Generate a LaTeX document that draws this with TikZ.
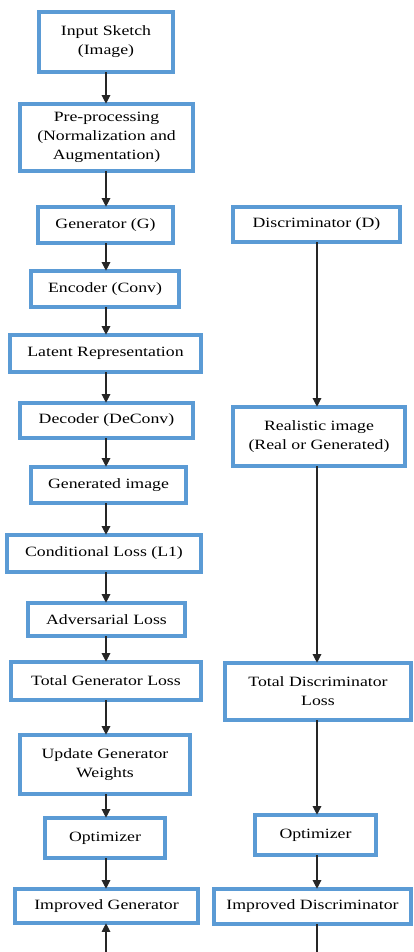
\documentclass[tikz,border=0pt]{standalone}
\usepackage{fontspec}
\setmainfont{Liberation Serif}[FakeStretch=1.25]
\usetikzlibrary{arrows.meta}
\definecolor{bandblue}{HTML}{5B9BD5}
\definecolor{edgeblue}{HTML}{41719C}

\begin{document}
\begin{tikzpicture}[
		x=1pt, y=-1pt,
		blk/.style={rectangle, draw=edgeblue, line width=0.6pt, double=bandblue,
			double distance=3.4pt, fill=white, align=center, inner sep=2pt,
			font=\fontsize{14.2}{19}\selectfont},
		flow/.style={draw=black!85, line width=1.2pt, -{Triangle[width=8.5pt,length=8.5pt]}}
	]
  \useasboundingbox (0,0) rectangle (414,952);
  % generator side
  \node (in) [blk, minimum width=134pt, minimum height=60pt] at (106,42) {Input Sketch\\(Image)};
  \node (pre) [blk, minimum width=173pt, minimum height=67pt] at (106.5,137.5) {Pre-processing\\(Normalization and\\Augmentation)};
  \node (gen) [blk, minimum width=135pt, minimum height=36pt] at (105.5,225) {Generator (G)};
  \node (enc) [blk, minimum width=148pt, minimum height=36pt] at (105,289) {Encoder (Conv)};
  \node (lat) [blk, minimum width=191pt, minimum height=37pt] at (105.5,353.5) {Latent Representation};
  \node (dec) [blk, minimum width=173pt, minimum height=35pt] at (106.5,420.5) {Decoder (DeConv)};
  \node (gim) [blk, minimum width=155pt, minimum height=36pt] at (108.5,485) {Generated image};
  \node (cond) [blk, minimum width=194pt, minimum height=37pt] at (104,553.5) {Conditional Loss (L1)};
  \node (adv) [blk, minimum width=157pt, minimum height=33pt] at (106.5,619.5) {Adversarial Loss};
  \node (tgl) [blk, minimum width=190pt, minimum height=38pt] at (106,681) {Total Generator Loss};
  \node (upd) [blk, minimum width=170pt, minimum height=59pt] at (105,764.5) {Update Generator\\Weights};
  \node (optg) [blk, minimum width=120pt, minimum height=40pt] at (105,838) {Optimizer};
  \node (impg) [blk, minimum width=183pt, minimum height=34pt] at (106.5,906) {Improved Generator};
  \coordinate (gbot) at (106,952);

  % discriminator side
  \node (dis) [blk, minimum width=167pt, minimum height=35pt] at (316.5,224.5) {Discriminator (D)};
  \node (real) [blk, minimum width=172pt, minimum height=59pt] at (319,436.5) {Realistic image\\(Real or Generated)};
  \node (tdl) [blk, minimum width=186pt, minimum height=57pt] at (318,691.5) {Total Discriminator\\Loss};
  \node (optd) [blk, minimum width=121pt, minimum height=40pt] at (315.5,835) {Optimizer};
  \node (impd) [blk, minimum width=197pt, minimum height=35pt] at (312.5,906.5) {Improved Discriminator};
  \coordinate (dbot) at (317,952);

  \draw[flow] (in.south -| 106,0) -- (pre.north -| 106,0);
  \draw[flow] (pre.south -| 106,0) -- (gen.north -| 106,0);
  \draw[flow] (gen.south -| 106,0) -- (enc.north -| 106,0);
  \draw[flow] (enc.south -| 106,0) -- (lat.north -| 106,0);
  \draw[flow] (lat.south -| 106,0) -- (dec.north -| 106,0);
  \draw[flow] (dec.south -| 106,0) -- (gim.north -| 106,0);
  \draw[flow] (gim.south -| 106,0) -- (cond.north -| 106,0);
  \draw[flow] (cond.south -| 106,0) -- (adv.north -| 106,0);
  \draw[flow] (adv.south -| 106,0) -- (tgl.north -| 106,0);
  \draw[flow] (tgl.south -| 106,0) -- (upd.north -| 106,0);
  \draw[flow] (upd.south -| 106,0) -- (optg.north -| 106,0);
  \draw[flow] (optg.south -| 106,0) -- (impg.north -| 106,0);
  \draw[flow] (gbot) -- (impg.south -| gbot);

  \draw[flow] (dis.south -| 317,0) -- (real.north -| 317,0);
  \draw[flow] (real.south -| 317,0) -- (tdl.north -| 317,0);
  \draw[flow] (tdl.south -| 317,0) -- (optd.north -| 317,0);
  \draw[flow] (optd.south -| 317,0) -- (impd.north -| 317,0);
  \draw[draw=black!85, line width=1.2pt] (impd.south -| dbot) -- (dbot);
\end{tikzpicture}
\end{document}
